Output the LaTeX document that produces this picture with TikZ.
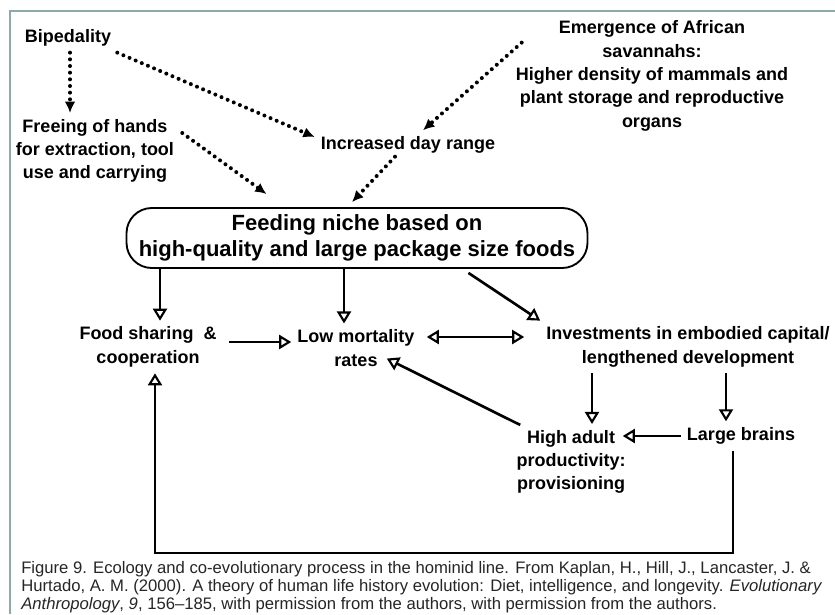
\documentclass[tikz,border=0pt]{standalone}
\usepackage{fontspec}
\setmainfont{Liberation Sans}
\usetikzlibrary{arrows.meta}
\definecolor{framegray}{RGB}{140,170,172}

\begin{document}
\begin{tikzpicture}[x=0.75pt, y=-0.75pt,
    lbl/.style={font=\fontsize{13.5}{17.5}\selectfont\bfseries, align=center, inner sep=4.5pt},
    feedbox/.style={draw, line width=1.4pt, rounded corners=19pt, minimum width=345.75pt, minimum height=45pt,
        inner sep=0pt, align=center, font=\fontsize{16.5}{20}\selectfont\bfseries},
    dots/.style={line width=3pt, line cap=round, dash pattern=on 0pt off 5pt, -{Latex[length=8.5pt, width=8pt]}},
    flow/.style={line width=2pt, -{Triangle[open, length=9pt, width=10.5pt, line width=1.6pt]}},
    twoway/.style={line width=2pt, {Triangle[open, length=9pt, width=10.5pt, line width=1.6pt]}-{Triangle[open, length=9pt, width=10.5pt, line width=1.6pt]}},
    caption/.style={font=\fontsize{12.5}{13.4}\selectfont, align=left, inner sep=0pt, text=black!85}]
    \useasboundingbox (0,0) rectangle (835,614);
    \fill[white] (0,0) rectangle (835,614);
    \draw[framegray, line width=2.2pt] (835,11) -- (10,11) -- (10,614);

    \node[lbl] (bip) at (68,38) {Bipedality};
    \node[lbl] (free) at (95,151) {Freeing of hands\\for extraction, tool\\use and carrying};
    \node[lbl] (inc) at (408,145) {Increased day range};
    \node[lbl] (emer) at (652,76) {Emergence of African\\savannahs:\\Higher density of mammals and\\plant storage and reproductive\\organs};
    \node[feedbox] (feed) at (357,238) {Feeding niche based on\\high-quality and large package size foods};
    \node[lbl] (food) at (148,347) {Food sharing\ \ \&\\cooperation};
    \node[lbl] (low) at (356,348) {Low mortality\\rates};
    \node[lbl] (inv) at (688,347) {Investments in embodied capital/\\lengthened development};
    \node[lbl] (high) at (571,462) {High adult\\productivity:\\provisioning};
    \node[lbl] (brain) at (741,436) {Large brains};
    \coordinate (base) at (0,553);

    \draw[dots] ([shift={(2,0)}]bip.south) -- ([shift={(2,0)}]bip.south |- free.north);
    \draw[dots] (bip.south east) -- ([shift={(0,-8)}]inc.west);
    \draw[dots] ([shift={(2,-18)}]free.east) -- ([shift={(141,-13)}]feed.north west);
    \draw[dots] ([shift={(-13,-3)}]inc.south) -- ([shift={(-5,-5)}]feed.north);
    \draw[dots] ([shift={(12,28)}]emer.north west) -- ([shift={(15,0)}]inc.north);

    \draw[flow] ([shift={(12,0)}]feed.south -| food.north) -- ([shift={(12,0)}]food.north);
    \draw[flow] ([shift={(-12,0)}]feed.south -| low.north) -- ([shift={(-12,0)}]low.north);
    \draw[flow] ([shift={(-120,4)}]feed.south east) -- (inv.north west);
    \draw[flow] ([shift={(6,-5)}]food.east) -- ([shift={(0,-5)}]food.east -| low.west);
    \draw[twoway] ([shift={(6,-11)}]low.east) -- ([shift={(-16,-11)}]low.east -| inv.west);
    \draw[flow] ([shift={(21,0)}]inv.south -| high.north) -- ([shift={(21,0)}]high.north);
    \draw[flow] ([shift={(-15,0)}]inv.south -| brain.north) -- ([shift={(-15,0)}]brain.north);
    \draw[flow] (brain.west) -- ([shift={(-9,0)}]brain.west -| high.east);
    \draw[flow] ([shift={(10,1)}]high.north west) -- ([shift={(-34,-14)}]low.south east);
    \draw[flow] ([shift={(-8,0)}]brain.south) -- ([shift={(-8,0)}]brain.south |- base) -| ([shift={(7,0)}]food.south);

    \node[caption, anchor=north west] (cap) at (21,561) {Figure 9. Ecology and co-evolutionary process in the hominid line. From Kaplan, H., Hill, J., Lancaster, J. \&\\
    Hurtado, A. M. (2000). A theory of human life history evolution: Diet, intelligence, and longevity. \textit{Evolutionary}\\
    \textit{Anthropology}, \textit{9}, 156--185, with permission from the authors, with permission from the authors.};
\end{tikzpicture}
\end{document}
